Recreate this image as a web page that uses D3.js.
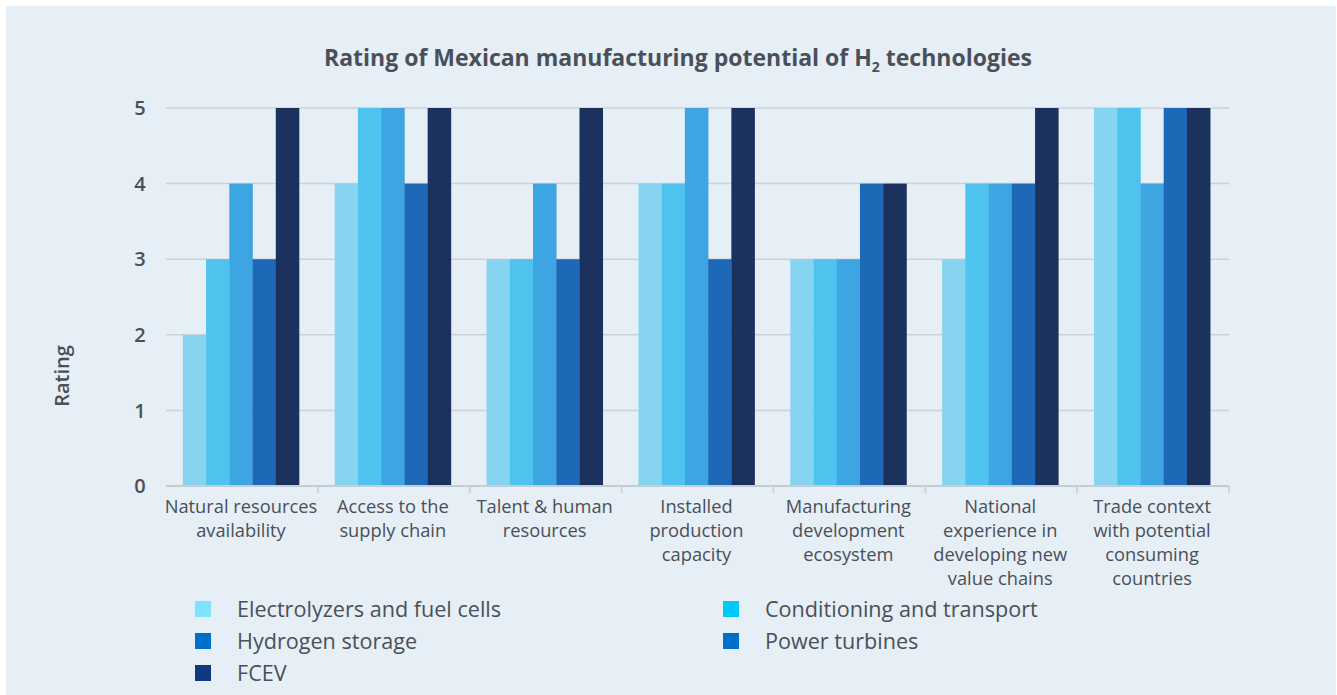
<!DOCTYPE html>
<html>
<head>
<meta charset="utf-8">
<script src="https://cdn.jsdelivr.net/npm/d3@7"></script>
<style>
  html, body { margin: 0; padding: 0; background: #ffffff; }
  svg { display: block; }
  text { font-family: "Open Sans", "Noto Sans", sans-serif; fill: #4a5059; }
</style>
</head>
<body>
<svg id="chart" width="1337" height="695"></svg>
<script>
const categories = [
  ["Natural resources", "availability"],
  ["Access to the", "supply chain"],
  ["Talent & human", "resources"],
  ["Installed", "production", "capacity"],
  ["Manufacturing", "development", "ecosystem"],
  ["National", "experience in", "developing new", "value chains"],
  ["Trade context", "with potential", "consuming", "countries"]
];
const seriesNames = ["Electrolyzers and fuel cells", "Conditioning and transport", "Hydrogen storage", "Power turbines", "FCEV"];
const electrolyzers = [2, 4, 3, 4, 3, 3, 5];
const conditioning  = [3, 5, 3, 4, 3, 4, 5];
const storage       = [4, 5, 4, 5, 3, 4, 4];
const turbines      = [3, 4, 3, 3, 4, 4, 5];
const fcev          = [5, 5, 5, 5, 4, 5, 5];
const yTicks = [0, 1, 2, 3, 4, 5];
const barColors = ["#87d4f1", "#4dc3ee", "#3ea5e3", "#1d69b7", "#1c325e"];
const legendColors = ["#7fe3ff", "#00c9f5", "#006fcc", "#006fcc", "#0d3a80"];

const seriesValues = [electrolyzers, conditioning, storage, turbines, fcev];
const svg = d3.select("#chart");

// panel background
svg.append("rect").attr("x", 6).attr("y", 6).attr("width", 1330).attr("height", 689).attr("fill", "#e6eef6");

const mLeft = 166, mRight = 1229, mTop = 108, mBottom = 486;
const x0 = d3.scaleBand().domain(d3.range(categories.length)).range([mLeft, mRight]).paddingInner(0).paddingOuter(0);
const groupW = x0.bandwidth() * 0.765;
const x1 = d3.scaleBand().domain(d3.range(seriesNames.length)).range([0, groupW]).padding(0);
const y = d3.scaleLinear().domain([0, 5]).range([mBottom, mTop]);

// gridlines
svg.append("g").selectAll("line").data(yTicks.filter(d => d > 0)).join("line")
  .attr("x1", mLeft).attr("x2", mRight)
  .attr("y1", d => y(d)).attr("y2", d => y(d))
  .attr("stroke", "#cbd1d8").attr("stroke-width", 1.5);

// y tick labels
svg.append("g").selectAll("text").data(yTicks).join("text")
  .attr("x", 140).attr("y", d => y(d)).attr("dy", "0.36em")
  .attr("text-anchor", "middle").attr("font-size", 20).attr("font-weight", 600)
  .text(d => d);

// y axis title
svg.append("text").attr("transform", "translate(69,376) rotate(-90)")
  .attr("text-anchor", "middle").attr("font-size", 20).attr("font-weight", 600)
  .text("Rating");

// bars
const groups = svg.append("g").selectAll("g").data(categories).join("g")
  .attr("transform", (d, i) => `translate(${x0(i) + (x0.bandwidth() - groupW) / 2 - 1},0)`);
groups.selectAll("rect").data((d, i) => seriesValues.map((s, j) => ({ j, v: s[i] }))).join("rect")
  .attr("x", d => x1(d.j)).attr("width", x1.bandwidth() + 0.3)
  .attr("y", d => y(d.v)).attr("height", d => y(0) - y(d.v))
  .attr("fill", d => barColors[d.j]);

// x axis line + ticks
svg.append("line").attr("x1", mLeft).attr("x2", mRight).attr("y1", mBottom).attr("y2", mBottom)
  .attr("stroke", "#c6ccd4").attr("stroke-width", 2);
svg.append("g").selectAll("line").data(d3.range(1, categories.length + 1)).join("line")
  .attr("x1", i => mLeft + i * x0.bandwidth()).attr("x2", i => mLeft + i * x0.bandwidth())
  .attr("y1", mBottom).attr("y2", mBottom + 7)
  .attr("stroke", "#c6ccd4").attr("stroke-width", 1.5);

// category labels
const catG = svg.append("g").selectAll("text").data(categories).join("text")
  .attr("text-anchor", "middle").attr("font-size", 18.3);
catG.each(function(lines, i) {
  d3.select(this).selectAll("tspan").data(lines).join("tspan")
    .attr("x", x0(i) + x0.bandwidth() / 2 - 1)
    .attr("y", (l, k) => 513 + k * 24)
    .text(l => l);
});

// title
const title = svg.append("text").attr("x", 678).attr("y", 66).attr("text-anchor", "middle")
  .attr("font-size", 23).attr("font-weight", 700);
title.append("tspan").text("Rating of Mexican manufacturing potential of H");
title.append("tspan").attr("font-size", 14).attr("dy", 6).text("2");
title.append("tspan").attr("dy", -6).text(" technologies");

// legend
const legPos = [[195, 601], [723, 601], [195, 633], [723, 633], [195, 665]];
const leg = svg.append("g").selectAll("g").data(seriesNames).join("g")
  .attr("transform", (d, i) => `translate(${legPos[i][0]},${legPos[i][1]})`);
leg.append("rect").attr("width", 16).attr("height", 16).attr("fill", (d, i) => legendColors[i]);
leg.append("text").attr("x", 42).attr("y", 8).attr("dy", "0.36em")
  .attr("font-size", 21.6)
  .text(d => d);
</script>
</body>
</html>
